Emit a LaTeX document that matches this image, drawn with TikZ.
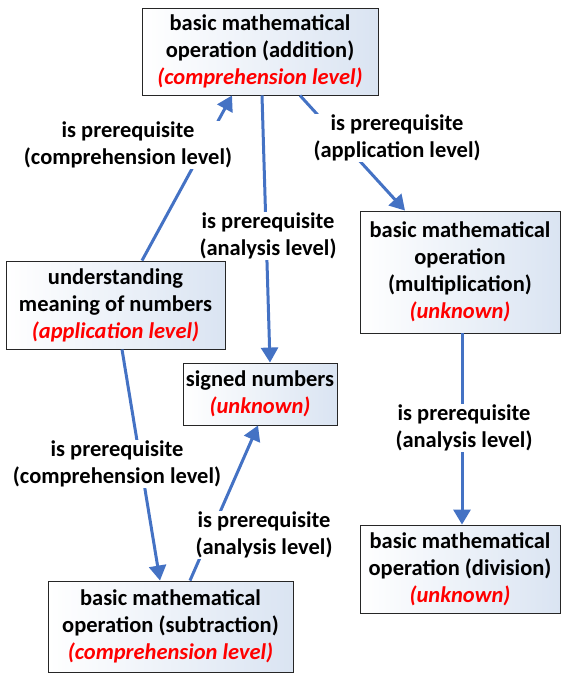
\documentclass[tikz,border=0pt]{standalone}
\usepackage{fontspec}
\setmainfont{Carlito}
\usetikzlibrary{arrows.meta}
\definecolor{arrowblue}{RGB}{68,114,196}
\definecolor{boxblue}{RGB}{218,228,242}
\definecolor{levelred}{RGB}{255,0,0}
\tikzset{
  concept/.style={draw=black!85,line width=0.9pt,left color=white,right color=boxblue,
    inner sep=0pt,align=center,font=\fontsize{22.5}{27}\selectfont\bfseries},
  prereq/.style={arrowblue,line width=3pt,-{Triangle[length=15pt,width=17pt]}},
  lbl/.style={fill=white,text=black,inner sep=1pt,align=center,font=\fontsize{22.5}{27}\selectfont\bfseries}
}
\newcommand{\lvl}[1]{\textcolor{levelred}{\itshape #1}}
\begin{document}
\begin{tikzpicture}[x=1pt,y=-1pt]
    \useasboundingbox (0,0) rectangle (562,673);
    \node[concept,minimum width=236pt,minimum height=87pt] (add) at (260,51.5)
        {basic mathematical\\operation (addition)\\\lvl{(comprehension level)}};
    \node[concept,minimum width=200pt,minimum height=122pt] (mult) at (460,272)
        {basic mathematical\\operation\\(multiplication)\\\lvl{(unknown)}};
    \node[concept,minimum width=219pt,minimum height=88pt] (und) at (115.5,305)
        {understanding\\meaning of numbers\\\lvl{(application level)}};
    \node[concept,minimum width=154pt,minimum height=62pt] (sig) at (260,394)
        {signed numbers\\\lvl{(unknown)}};
    \node[concept,minimum width=200pt,minimum height=88pt] (div) at (460,569)
        {basic mathematical\\operation (division)\\\lvl{(unknown)}};
    \node[concept,minimum width=245pt,minimum height=91pt] (sub) at (170.5,626.5)
        {basic mathematical\\operation (subtraction)\\\lvl{(comprehension level)}};

    \draw[prereq] ([xshift=26.5pt]und.north) -- ([xshift=-28pt]add.south)
        node[lbl] at (128,145) {is prerequisite\\(comprehension level)};
    \draw[prereq] ([xshift=2pt]add.south) -- ([xshift=10pt]sig.north)
        node[lbl] at (268,236) {is prerequisite\\(analysis level)};
    \draw[prereq] ([xshift=40pt]add.south) -- ([xshift=-55pt]mult.north)
        node[lbl] at (397,138) {is prerequisite\\(application level)};
    \draw[prereq] ([xshift=2pt]mult.south) -- ([xshift=2pt]div.north)
        node[lbl] at (464,428) {is prerequisite\\(analysis level)};
    \draw[prereq] ([xshift=6.5pt]und.south) -- ([xshift=-10.5pt]sub.north)
        node[lbl] at (117,464) {is prerequisite\\(comprehension level)};
    \draw[prereq] ([xshift=19.5pt]sub.north) -- ([xshift=-2pt]sig.south)
        node[lbl] at (264,535) {is prerequisite\\(analysis level)};
\end{tikzpicture}
\end{document}
